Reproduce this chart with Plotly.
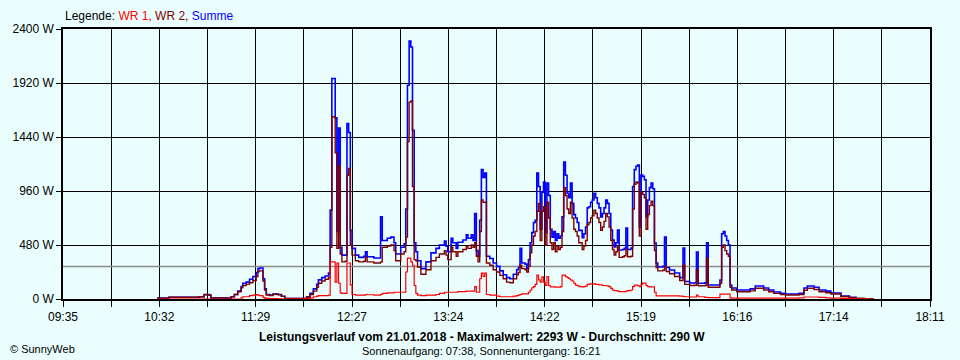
import plotly.graph_objects as go

# ---------------- data ----------------
TIMES = [
    "10:31", "10:38", "10:49", "10:56", "10:59", "11:02", "11:03", "11:12", "11:15", "11:17",
    "11:19", "11:21", "11:22", "11:24", "11:26", "11:28", "11:30", "11:31", "11:32", "11:34",
    "11:35", "11:36", "11:38", "11:40", "11:43", "11:45", "11:47", "11:57", "12:00", "12:02",
    "12:04", "12:06", "12:07", "12:09", "12:11", "12:13", "12:14", "12:15", "12:16", "12:17",
    "12:18", "12:19", "12:20", "12:21", "12:23", "12:24", "12:25", "12:26", "12:27", "12:29",
    "12:31", "12:34", "12:35", "12:36", "12:40", "12:44", "12:45", "12:48", "12:50", "12:52",
    "12:53", "12:56", "12:58", "12:59", "13:00", "13:01", "13:02", "13:03", "13:04", "13:05",
    "13:06", "13:08", "13:11", "13:14", "13:17", "13:19", "13:22", "13:23", "13:24", "13:26",
    "13:27", "13:29", "13:30", "13:33", "13:35", "13:36", "13:38", "13:39", "13:40", "13:41",
    "13:42", "13:43", "13:44", "13:45", "13:46", "13:47", "13:49", "13:51", "13:53", "13:55",
    "13:57", "13:59", "14:01", "14:03", "14:05", "14:06", "14:07", "14:08", "14:10", "14:11",
    "14:12", "14:13", "14:14", "14:15", "14:16", "14:17", "14:18", "14:19", "14:20", "14:21",
    "14:22", "14:23", "14:24", "14:25", "14:26", "14:27", "14:28", "14:29", "14:30", "14:31",
    "14:32", "14:33", "14:34", "14:35", "14:36", "14:37", "14:38", "14:39", "14:40", "14:41",
    "14:42", "14:44", "14:45", "14:46", "14:47", "14:48", "14:49", "14:50", "14:51", "14:52",
    "14:53", "14:54", "14:55", "14:56", "14:57", "14:58", "14:59", "15:00", "15:01", "15:02",
    "15:03", "15:04", "15:05", "15:06", "15:08", "15:09", "15:10", "15:11", "15:13", "15:14",
    "15:15", "15:16", "15:17", "15:18", "15:19", "15:20", "15:21", "15:22", "15:23", "15:24",
    "15:25", "15:26", "15:27", "15:28", "15:29", "15:32", "15:33", "15:34", "15:36", "15:39",
    "15:42", "15:44", "15:45", "15:48", "15:51", "15:52", "15:53", "15:57", "15:58", "15:59",
    "16:04", "16:06", "16:07", "16:08", "16:09", "16:10", "16:11", "16:12", "16:13", "16:16",
    "16:24", "16:27", "16:30", "16:32", "16:35", "16:38", "16:42", "16:45", "16:50", "16:53",
    "16:56", "16:58", "17:02", "17:05", "17:09", "17:12", "17:18", "17:23", "17:27", "17:32",
    "17:37",
]

SUMME = [
    8, 15, 15, 20, 40, 35, 10, 8, 20, 40,
    70, 110, 140, 150, 175, 200, 235, 270, 275, 180,
    90, 40, 35, 45, 40, 25, 5, 5, 20, 50,
    90, 130, 170, 190, 205, 230, 790, 1960, 1960, 1610,
    600, 1520, 460, 390, 390, 1560, 1480, 610, 450, 390,
    370, 380, 420, 375, 365, 730, 520, 540, 550, 500,
    400, 460, 490, 800, 1900, 2293, 2240, 1500, 500, 420,
    340, 270, 330, 410, 450, 480, 515, 470, 420, 540,
    500, 450, 505, 525, 570, 540, 570, 520, 760, 430,
    380, 700, 1150, 1080, 1120, 380, 360, 320, 290, 250,
    215, 190, 180, 220, 260, 280, 450, 320, 310, 270,
    350, 500, 590, 680, 700, 1120, 1000, 620, 950, 1040,
    590, 1030, 920, 620, 550, 600, 520, 580, 540, 560,
    730, 1218, 1100, 940, 900, 1030, 850, 750, 720, 680,
    610, 545, 580, 640, 810, 820, 860, 880, 940, 900,
    850, 810, 730, 760, 810, 880, 850, 760, 613, 524,
    462, 500, 613, 436, 440, 450, 631, 440, 453, 1000,
    1150, 1180, 1191, 640, 1102, 1090, 1060, 729, 880, 990,
    1031, 980, 498, 320, 284, 290, 551, 280, 258, 231,
    190, 453, 155, 142, 145, 418, 140, 145, 500, 124,
    124, 169, 580, 600, 560, 520, 480, 124, 98, 80,
    90, 116, 116, 98, 80, 62, 50, 44, 44, 50,
    98, 116, 105, 80, 70, 53, 27, 15, 5, 2,
    0,
]

WR2 = [
    8, 15, 15, 20, 38, 33, 10, 8, 20, 40,
    65, 100, 120, 130, 145, 165, 200, 245, 250, 160,
    80, 35, 30, 42, 38, 23, 5, 5, 15, 40,
    70, 105, 140, 160, 175, 190, 460, 1620, 1620, 1300,
    450, 1180, 400, 330, 335, 1100, 1160, 480, 390, 340,
    330, 335, 370, 330, 320, 330, 460, 470, 480, 430,
    340, 400, 420, 550, 1400, 1750, 1760, 1000, 350, 340,
    285, 220, 260, 340, 370, 400, 430, 390, 350, 460,
    420, 380, 420, 440, 470, 450, 480, 460, 500, 380,
    330, 600, 880, 860, 860, 320, 300, 260, 240, 210,
    180, 150, 145, 180, 215, 235, 300, 270, 260, 240,
    290, 410, 480, 560, 600, 780, 850, 520, 780, 820,
    480, 860, 720, 500, 440, 500, 420, 470, 440, 460,
    600, 990, 920, 800, 760, 860, 720, 620, 600, 560,
    500, 440, 470, 520, 660, 680, 720, 740, 790, 760,
    720, 680, 610, 640, 690, 760, 730, 640, 520, 440,
    390, 420, 470, 370, 375, 385, 440, 375, 380, 800,
    1020, 1040, 1030, 560, 950, 930, 900, 620, 750, 830,
    870, 830, 430, 280, 250, 255, 290, 245, 225, 200,
    165, 300, 130, 120, 122, 260, 118, 120, 360, 105,
    105, 140, 460, 480, 430, 400, 380, 105, 80, 65,
    72, 95, 95, 80, 65, 50, 40, 35, 36, 40,
    78, 95, 85, 65, 55, 45, 22, 12, 4, 2,
    0,
]

WR1 = [
    0, 0, 0, 0, 0, 0, 0, 0, 0, 0,
    0, 10, 20, 20, 30, 35, 40, 35, 30, 15,
    8, 5, 3, 3, 2, 0, 0, 0, 5, 10,
    20, 25, 30, 30, 30, 35, 330, 330, 330, 150,
    320, 140, 55, 50, 50, 320, 320, 125, 40, 35,
    35, 35, 40, 38, 35, 40, 50, 55, 55, 60,
    60, 60, 60, 240, 364, 364, 330, 300, 120, 50,
    35, 30, 35, 35, 40, 50, 60, 60, 60, 60,
    60, 60, 65, 65, 70, 70, 70, 70, 110, 60,
    60, 180, 230, 200, 230, 40, 35, 35, 25, 20,
    20, 20, 20, 25, 30, 35, 40, 45, 45, 45,
    60, 80, 100, 110, 130, 213, 170, 150, 196, 150,
    120, 200, 120, 107, 107, 107, 105, 105, 105, 110,
    213, 213, 200, 190, 180, 169, 160, 140, 124, 120,
    110, 107, 110, 115, 130, 133, 135, 135, 135, 130,
    130, 125, 125, 120, 120, 118, 116, 110, 95, 80,
    75, 75, 70, 65, 65, 65, 70, 75, 80, 110,
    124, 124, 118, 110, 130, 142, 142, 120, 110, 107,
    107, 107, 60, 27, 27, 27, 27, 27, 27, 27,
    25, 22, 20, 18, 18, 35, 20, 15, 15, 12,
    12, 44, 44, 44, 44, 44, 44, 10, 8, 8,
    8, 8, 8, 8, 8, 8, 8, 8, 8, 10,
    18, 18, 18, 15, 10, 8, 5, 3, 0, 0,
    0,
]

TICK_LABELS = ["09:35", "", "10:32", "", "11:29", "", "12:27", "", "13:24", "",
               "14:22", "", "15:19", "", "16:16", "", "17:14", "", "18:11"]
Y_TICKS = [0, 480, 960, 1440, 1920, 2400]
AVERAGE = 290
START_MIN, END_MIN = 9 * 60 + 35, 18 * 60 + 11

# ---------------- figure ----------------
def to_min(t):
    h, m = t.split(":")
    return int(h) * 60 + int(m)

x = [to_min(t) for t in TIMES]
step = (END_MIN - START_MIN) / (len(TICK_LABELS) - 1)
tickvals = [START_MIN + i * step for i in range(len(TICK_LABELS))]

BG = "#EBFEFE"
FONT = "Liberation Sans, Arial, sans-serif"

fig = go.Figure()
fig.add_trace(go.Scatter(x=[START_MIN, END_MIN], y=[AVERAGE, AVERAGE], mode="lines",
                         line=dict(color="#8C8C8C", width=1.5), hoverinfo="skip", showlegend=False))
fig.add_trace(go.Scatter(x=x, y=SUMME, name="Summe", mode="lines", line_shape="hv",
                         line=dict(color="#0000FF", width=1.6), showlegend=False))
fig.add_trace(go.Scatter(x=x, y=WR2, name="WR 2", mode="lines", line_shape="hv",
                         line=dict(color="#800000", width=1.4), showlegend=False))
fig.add_trace(go.Scatter(x=x, y=WR1, name="WR 1", mode="lines", line_shape="hv",
                         line=dict(color="#FF0000", width=1.2), showlegend=False))

fig.update_layout(
    width=960, height=360,
    margin=dict(l=60, r=30, t=29, b=61),
    paper_bgcolor=BG, plot_bgcolor=BG,
    font=dict(family=FONT, size=12, color="black"),
    showlegend=False,
)
fig.update_xaxes(
    range=[START_MIN, END_MIN], tickmode="array", tickvals=tickvals, ticktext=TICK_LABELS,
    showgrid=True, gridcolor="black", gridwidth=1,
    showline=True, linecolor="black", linewidth=1.5, mirror=True,
    ticks="outside", ticklen=6, tickcolor="black", tickwidth=1,
    zeroline=False, tickfont=dict(size=12),
)
fig.update_yaxes(
    range=[0, 2400], tickmode="array", tickvals=Y_TICKS,
    ticktext=[f"{v} W" for v in Y_TICKS],
    showgrid=True, gridcolor="black", gridwidth=1,
    showline=True, linecolor="black", linewidth=1.5, mirror=True,
    ticks="outside", ticklen=5, tickcolor="black", tickwidth=1,
    zeroline=False, tickfont=dict(size=12),
)

def px_y(p):
    return (299 - p) / 270.0

def px_x(p):
    return (p - 60) / 870.0

fig.add_annotation(
    x=px_x(60), y=px_y(16), xref="paper", yref="paper", xanchor="left", yanchor="middle",
    showarrow=False, font=dict(size=12),
    text="Legende: <span style='color:#FF0000'>WR 1,</span> "
         "<span style='color:#800000'>WR 2,</span> "
         "<span style='color:#0000FF'>Summe</span>",
)
fig.add_annotation(
    x=px_x(480), y=px_y(337), xref="paper", yref="paper", xanchor="center", yanchor="middle",
    showarrow=False, font=dict(size=12),
    text="<b>Leistungsverlauf vom 21.01.2018 - Maximalwert: 2293 W - Durchschnitt: 290 W</b>",
)
fig.add_annotation(
    x=px_x(480), y=px_y(351), xref="paper", yref="paper", xanchor="center", yanchor="middle",
    showarrow=False, font=dict(size=11),
    text="Sonnenaufgang: 07:38, Sonnenuntergang: 16:21",
)
fig.add_annotation(
    x=px_x(5), y=px_y(349), xref="paper", yref="paper", xanchor="left", yanchor="middle",
    showarrow=False, font=dict(size=11),
    text="© SunnyWeb",
)

fig.write_html(
    "out.html",
    config={"displayModeBar": False},
    post_script=(
        "document.body.style.margin='0';"
        "document.body.style.padding='0';"
        "document.body.style.overflow='hidden';"
        "document.body.style.background='" + BG + "';"
    ),
)
